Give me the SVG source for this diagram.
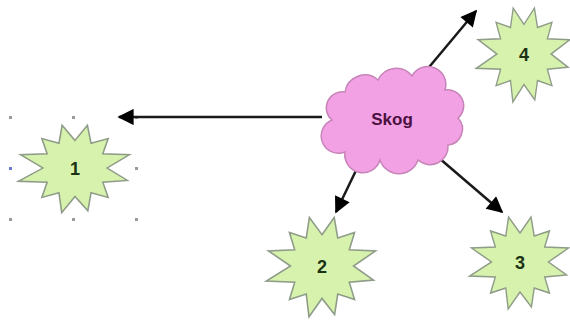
<svg xmlns="http://www.w3.org/2000/svg" width="570" height="320" viewBox="0 0 570 320">
<style>
.star{fill:#d6f2ad;stroke:#8f9c88;stroke-width:1.5;stroke-linejoin:miter}
.num{font-family:"Liberation Sans",Arial,sans-serif;font-size:18px;font-weight:bold;fill:#1c3214;text-anchor:middle}
.lbl{font-family:"Liberation Sans",Arial,sans-serif;font-size:17px;font-weight:bold;fill:#4a1040;text-anchor:middle}
.conn{stroke:#1a1a1a;stroke-width:2.5;fill:none;marker-end:url(#ah)}
.h{fill:#9a9a9a}
</style>
<defs>
<marker id="ah" viewBox="0 0 10 10" refX="9" refY="5" markerWidth="7" markerHeight="6.5" markerUnits="strokeWidth" orient="auto">
<path d="M0,0 L10,5 L0,10 z" fill="#000"/>
</marker>
<polygon id="burst" points="0,-29 11.6,-45 15,-26 31,-31 26,-15 51,-14 30,0 49,13 26,15 31,31 15,26 12,45 0,30 -12.4,47 -15,26 -31,31 -26,15 -53,14 -30,0 -51,-14 -26,-15 -31,-31 -15,-26 -12,-45"/>
</defs>
<rect width="570" height="320" fill="#fff"/>
<g id="selection">
<rect class="h" x="9" y="116" width="3" height="3"/>
<rect class="h" x="72" y="116" width="3" height="3"/>
<rect class="h" x="135" y="116" width="3" height="3"/>
<rect x="9" y="167" width="3" height="3" fill="#6a7ad0"/>
<rect class="h" x="135" y="167" width="3" height="3"/>
<rect class="h" x="9" y="218" width="3" height="3"/>
<rect class="h" x="72" y="218" width="3" height="3"/>
<rect class="h" x="135" y="218" width="3" height="3"/>
</g>
<g id="connectors">
<line class="conn" x1="322" y1="117" x2="119" y2="117"/>
<line class="conn" x1="425" y1="72" x2="476" y2="11"/>
<line class="conn" x1="362" y1="158" x2="336" y2="212"/>
<line class="conn" x1="432" y1="152" x2="502" y2="212"/>
</g>
<g id="skog">
<path d="M332 120 A16 16 0 0 1 345 92 A20 20 0 0 1 378 80 A20 20 0 0 1 412 76 A18 18 0 0 1 445 90 A16 16 0 0 1 458 118 A16 16 0 0 1 448 145 A18 18 0 0 1 418 160 A20 20 0 0 1 380 160 A18 18 0 0 1 345 152 A16 16 0 0 1 332 120 Z" fill="#f2a2e4" stroke="#c784b8" stroke-width="1.5"/>
<text class="lbl" x="392" y="125">Skog</text>
</g>
<g id="n1">
<use href="#burst" class="star" transform="translate(75,168) scale(1.07,0.95)"/>
<text class="num" x="75" y="175">1</text>
</g>
<g id="n2">
<use href="#burst" class="star" transform="translate(322,266) scale(1.05,1.08)"/>
<text class="num" x="322" y="273">2</text>
</g>
<g id="n3">
<use href="#burst" class="star" transform="translate(520,262) scale(0.95,1.0)"/>
<text class="num" x="520" y="269">3</text>
</g>
<g id="n4">
<use href="#burst" class="star" transform="translate(524,54) scale(0.9,1.02)"/>
<text class="num" x="524" y="61">4</text>
</g>
</svg>
